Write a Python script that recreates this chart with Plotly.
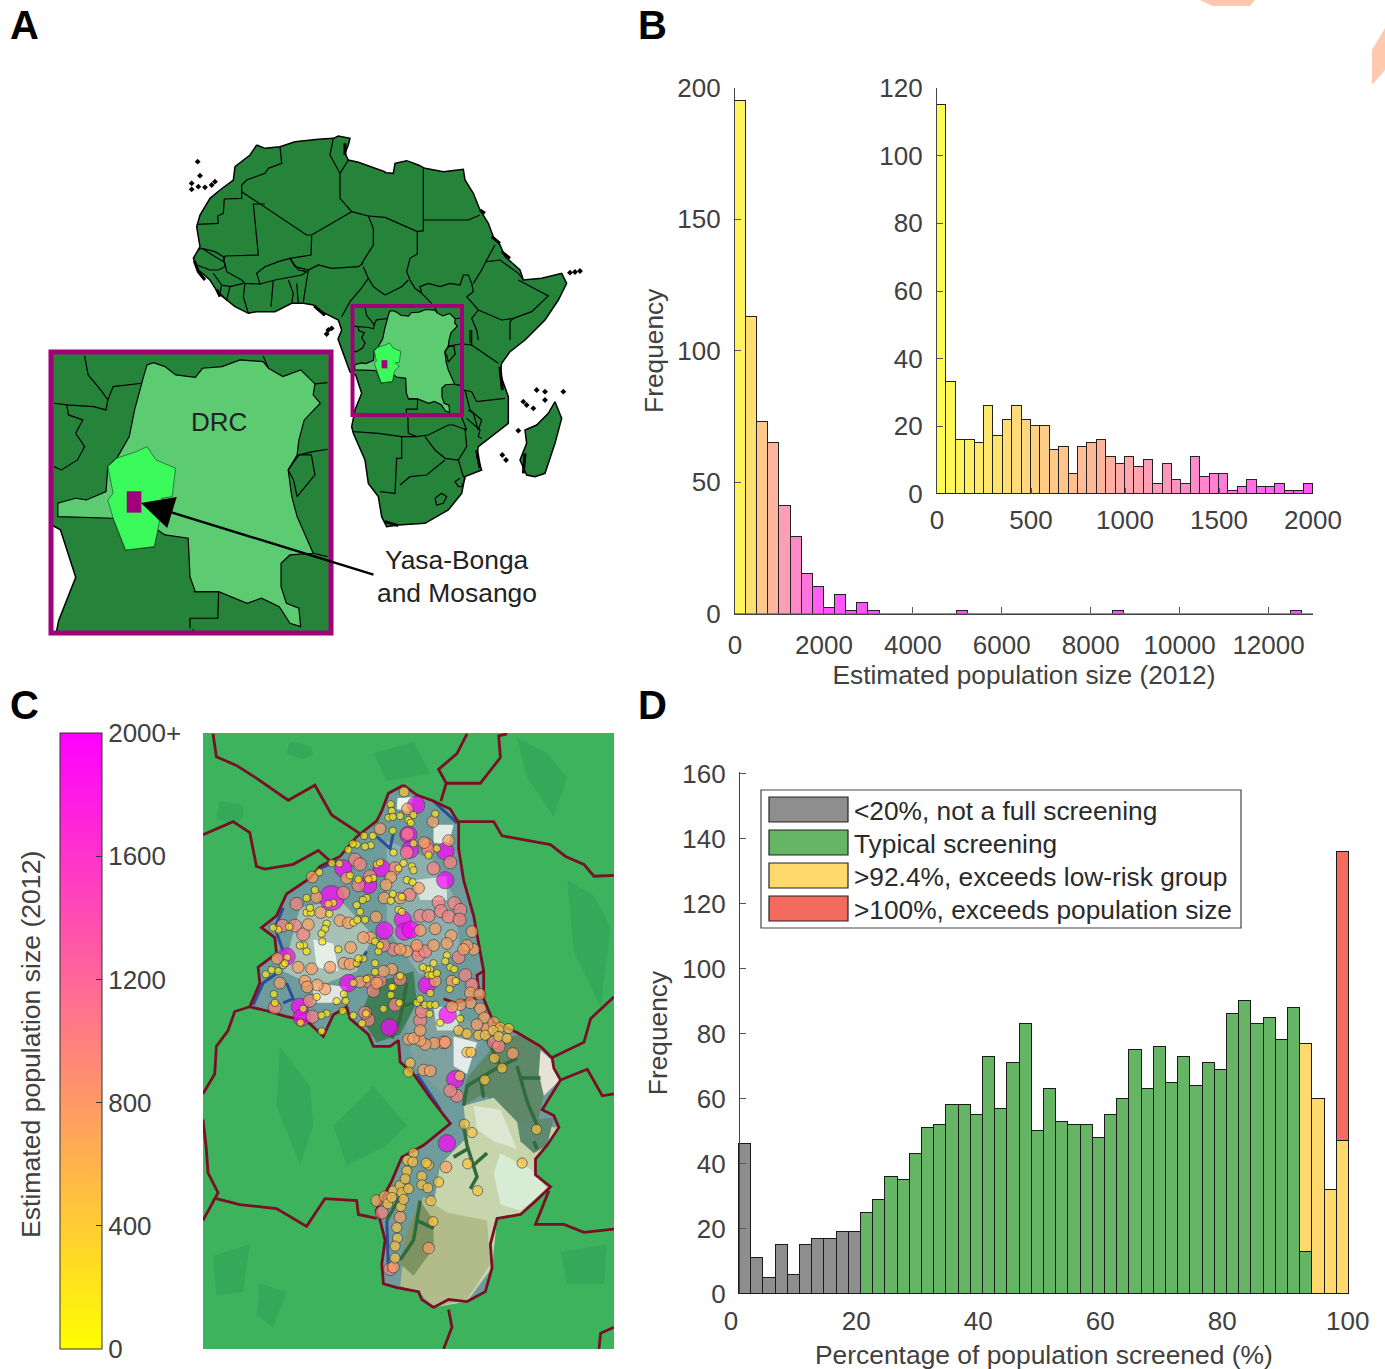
import math
import plotly.graph_objects as go

W, H = 1385, 1369
FONT = "Liberation Sans"
TICK = "#404040"

# ---------- Panel B data ----------
B_MAIN_BIN = 250
B_MAIN_COUNTS = [195, 113, 73, 65, 41, 29, 15, 10, 2, 7, 1, 4, 1, 0, 0, 0, 0, 0, 0, 0, 1, 0, 0, 0, 0, 0,
                 0, 0, 0, 0, 0, 0, 0, 0, 1, 0, 0, 0, 0, 0, 0, 0, 0, 0, 0, 0, 0, 0, 0, 0, 1, 0]
B_INSET_BIN = 50
B_INSET_COUNTS = [115, 33, 16, 16, 15, 26, 17, 22, 26, 22, 20, 20, 13, 14, 6, 14, 15, 16, 11, 9,
                  11, 8, 10, 3, 9, 4, 3, 11, 5, 6, 6, 1, 2, 4, 2, 2, 3, 1, 1, 3]
B_MAIN_XTICKS = [0, 2000, 4000, 6000, 8000, 10000, 12000]
B_MAIN_XLABELS = ["0", "2000", "4000", "6000", "8000", "10000", "12000"]
B_MAIN_YTICKS = [0, 50, 100, 150, 200]
B_INSET_XTICKS = [0, 500, 1000, 1500, 2000]
B_INSET_YTICKS = [0, 20, 40, 60, 80, 100, 120]

# ---------- Panel D data ----------
D_BIN = 2
D_GRAY = [46, 11, 5, 15, 6, 15, 17, 17, 19, 19] + [0] * 40
D_GREEN = [0] * 10 + [25, 29, 36, 35, 43, 51, 52, 58, 58, 55, 73, 57, 71, 83, 50, 63, 53, 52, 52, 48,
                      55, 60, 75, 63, 76, 65, 73, 64, 71, 69, 86, 90, 83, 85, 78, 88, 13, 0, 0, 0]
D_YELLOW = [0] * 46 + [64, 60, 32, 47]
D_RED = [0] * 49 + [89]
D_YTICKS = [0, 20, 40, 60, 80, 100, 120, 140, 160]
D_XLABELS = ["0", "20", "40", "60", "80", "100"]
D_LEGEND = ["<20%, not a full screening", "Typical screening", ">92.4%, exceeds low-risk group",
            ">100%, exceeds population size"]
D_COLORS = ["#8E8E8E", "#66B564", "#FFD96B", "#F26B5E"]

# ---------- Panel C data: villages in map units, by population class ----------
C_HUGE = [(395, 425)]
C_BIG = [(648, 190), (735, 307), (430, 350), (735, 380), (505, 392), (625, 265), (553, 507), (608, 480), (612, 510),
         (632, 505), (445, 640), (300, 700), (306, 727), (260, 573), (568, 752), (765, 883), (740, 1045), (742, 720),
         (680, 645), (545, 350), (630, 303)]
C_SALMON = [(622, 263), (680, 290), (684, 303), (700, 350), (750, 335), (620, 310), (465, 328), (480, 340), (510, 370),
            (585, 350), (475, 393), (430, 412), (290, 440), (248, 495), (285, 495), (310, 517), (628, 417), (715, 436),
            (722, 458), (745, 472), (762, 438), (780, 455), (778, 480), (660, 470), (685, 470), (650, 555), (655, 570),
            (675, 560), (580, 555), (550, 545), (505, 635), (540, 635), (520, 660), (330, 685), (338, 725), (545, 1220),
            (570, 1363), (225, 702), (795, 620), (775, 575), (770, 925), (750, 912), (730, 790), (880, 790), (895, 800),
            (815, 645), (505, 733), (495, 715), (660, 735), (665, 712), (600, 630), (585, 695)]
C_ORANGE = [(622, 200), (698, 232), (745, 280), (672, 285), (540, 250), (440, 375), (337, 372), (350, 423), (362, 462),
            (325, 492), (420, 482), (445, 488), (390, 600), (335, 604), (295, 600), (315, 635), (240, 640), (232, 578),
            (452, 550), (432, 590), (450, 592), (480, 637), (375, 655), (352, 645), (322, 650), (512, 525), (490, 525),
            (552, 425), (528, 473), (572, 372), (558, 392), (600, 425), (655, 400), (660, 507), (705, 503), (753, 520),
            (815, 510), (820, 555), (800, 545), (790, 555), (740, 540), (700, 545), (650, 545), (620, 560), (600, 555),
            (575, 605), (550, 610), (530, 640), (705, 635), (755, 635), (810, 665), (838, 668), (810, 690), (780, 695),
            (755, 700), (840, 705), (852, 728), (860, 755), (830, 745), (880, 740), (937, 818), (702, 792), (735, 790),
            (675, 795), (660, 785), (625, 782), (640, 780), (660, 760), (670, 860), (690, 862), (737, 1105), (685, 1310),
            (530, 1190), (555, 1180), (600, 1232), (580, 1358)]
C_GOLD = [(612, 157), (900, 752), (925, 755), (835, 772), (855, 772), (878, 760), (895, 775), (920, 780), (905, 855),
          (882, 830), (775, 760), (800, 768), (800, 815), (812, 815), (630, 842), (625, 865), (778, 875), (853, 885),
          (792, 997), (815, 1018), (802, 1097), (965, 1095), (1008, 1010), (832, 1165), (685, 1100), (678, 1095),
          (640, 1070), (622, 1088), (638, 1092), (620, 1115), (665, 1128), (665, 1150), (683, 1158), (715, 1143),
          (692, 1190), (698, 1243), (602, 1205), (590, 1258), (592, 1285), (585, 1305), (585, 1335), (580, 1165),
          (600, 1152), (605, 1170), (625, 1160), (610, 1187), (563, 1198), (615, 1135), (575, 1182)]
C_TINY = [(572, 188), (575, 205), (565, 222), (578, 220), (600, 218), (640, 215), (625, 228), (632, 235), (705, 212),
          (578, 255), (518, 268), (492, 268), (470, 290), (458, 288), (445, 303), (512, 292), (495, 295), (580, 310),
          (640, 287), (710, 300), (685, 317), (395, 337), (418, 338), (358, 360), (345, 405), (320, 425), (320, 462),
          (333, 462), (330, 450), (400, 437), (388, 465), (385, 440), (380, 490), (375, 503), (365, 515), (367, 535),
          (235, 505), (220, 500), (268, 498), (262, 575), (250, 595), (235, 610), (215, 607), (198, 618), (255, 590),
          (312, 545), (300, 545), (320, 560), (415, 555), (470, 590), (490, 578), (475, 578), (525, 590), (525, 612),
          (500, 630), (460, 640), (432, 668), (437, 685), (410, 686), (350, 675), (380, 717), (365, 722), (310, 705),
          (225, 690), (222, 668), (365, 762), (302, 740), (428, 710), (460, 722), (498, 717), (486, 742), (550, 705),
          (572, 670), (580, 650), (598, 690), (600, 622), (535, 560), (525, 535), (540, 545), (578, 415), (572, 432),
          (605, 422), (595, 455), (605, 460), (500, 425), (488, 430), (470, 443), (460, 487), (472, 480), (495, 480),
          (480, 460), (530, 340), (540, 335), (520, 375), (505, 378), (595, 350), (610, 337), (635, 345), (640, 355),
          (620, 380), (637, 385), (450, 368), (475, 378), (690, 605), (700, 590), (680, 605), (668, 600), (685, 620),
          (695, 620), (710, 615), (740, 570), (735, 585), (750, 600), (762, 605), (767, 635), (748, 655), (690, 665),
          (675, 695), (690, 695), (705, 695), (650, 690), (660, 680), (688, 718), (720, 740), (780, 730), (575, 650)]
C_POP = {"huge": 5000, "big": 2100, "salmon": 1000, "orange": 750, "gold": 480, "tiny": 170}
C_CBAR_TICKS = [0, 400, 800, 1200, 1600, 2000]
C_CBAR_LABELS = ["0", "400", "800", "1200", "1600", "2000+"]

C_REGION = [(610, 140), (650, 165), (700, 180), (750, 200), (775, 235), (775, 300), (790, 380), (820, 470), (835, 540),
            (850, 610), (850, 680), (880, 740), (950, 765), (1020, 800), (1055, 830), (1060, 855), (1080, 885),
            (1025, 960), (1060, 975), (1075, 1005), (1040, 1050), (1005, 1085), (1005, 1125), (1050, 1155), (1000, 1195),
            (960, 1225), (890, 1235), (870, 1300), (875, 1360), (855, 1420), (800, 1445), (745, 1440), (700, 1460),
            (665, 1440), (655, 1420), (590, 1410), (550, 1400), (545, 1350), (555, 1290), (540, 1240), (528, 1215),
            (575, 1140), (605, 1080), (670, 1050), (750, 995), (690, 930), (640, 870), (600, 840), (595, 785), (570, 800),
            (520, 800), (505, 770), (450, 730), (440, 700), (400, 720), (370, 775), (345, 755), (320, 735), (260, 725),
            (200, 710), (150, 700), (180, 640), (175, 600), (230, 565), (225, 525), (185, 500), (230, 470), (260, 415),
            (330, 375), (360, 345), (420, 320), (470, 270), (530, 230), (545, 205), (565, 160), (610, 140)]
# land-cover patches inside the study area: (colour, outline)
C_COVER = [
    ("#A9C0B4", [(300, 450), (420, 430), (520, 520), (470, 610), (350, 650), (250, 610)]),
    ("#8DB0AE", [(560, 280), (700, 330), (760, 420), (780, 560), (660, 620), (560, 500)]),
    ("#7FA19E", [(610, 700), (760, 720), (860, 760), (800, 860), (730, 920), (640, 850)]),
    ("#3F7F58", [(520, 640), (640, 610), (650, 690), (600, 770), (530, 790), (480, 725)]),
    ("#5E8868", [(790, 950), (800, 880), (880, 800), (950, 770), (1020, 800), (1040, 880), (1020, 960), (1010, 1000), (930, 1000), (900, 960), (850, 920)]),
    ("#C6D5AC", [(790, 950), (880, 930), (960, 1000), (1075, 1005), (1005, 1085), (1005, 1125), (1050, 1155), (960, 1225), (890, 1235),
                 (875, 1360), (800, 1445), (700, 1460), (690, 1300), (700, 1200), (720, 1100), (800, 1030)]),
    ("#B2BC8A", [(670, 1180), (740, 1220), (860, 1240), (870, 1350), (800, 1440), (700, 1460), (655, 1420), (600, 1405), (610, 1330)]),
    ("#7E9362", [(660, 1190), (700, 1240), (700, 1310), (640, 1380), (600, 1350), (620, 1270)]),
    ("#DDE6D0", [(820, 950), (900, 960), (950, 1060), (880, 1040), (830, 1010)]),
    ("#D8EBD4", [(900, 1070), (990, 1110), (1040, 1160), (960, 1215), (900, 1200), (880, 1120)]),
    ("#E6E2D6", [(1020, 810), (1055, 835), (1078, 885), (1030, 925), (1015, 870)]),
    ("#5D8A70", [(950, 990), (1060, 980), (1040, 1050), (1000, 1070), (960, 1040)]),
    ("#EEF3EC", [(592, 172), (640, 170), (625, 205), (590, 200)]),
    ("#E3EBE4", [(700, 240), (760, 240), (745, 290), (700, 285)]),
    ("#E6EEE8", [(340, 530), (400, 540), (415, 610), (350, 600)]),
    ("#E4ECEA", [(760, 775), (830, 790), (800, 870), (760, 850)]),
    ("#D6E2DC", [(640, 380), (740, 370), (740, 430), (660, 430)]),
    ("#E2E5E0", [(340, 640), (440, 650), (420, 690), (340, 690)]),
    ("#CFE0D8", [(700, 700), (780, 700), (770, 760), (710, 760)]),
]
C_FOREST = [[(790, 1000), (800, 1050), (830, 1130), (810, 1160)], [(800, 1060), (760, 1080)], [(820, 1100), (860, 1070)],
            [(860, 780), (900, 850), (800, 900), (790, 950)], [(900, 850), (950, 830)], [(840, 880), (850, 930)],
            [(950, 850), (980, 940), (1010, 1000)], [(660, 1190), (640, 1290), (600, 1340)], [(650, 1240), (700, 1260)],
            [(620, 640), (600, 730), (575, 780)], [(600, 700), (640, 690)], [(1000, 1040), (1010, 1060)],
            [(560, 1240), (600, 1180)], [(960, 880), (1020, 880)]]
C_BLUE_EDGE = [[(160, 695), (190, 640), (240, 610)], [(250, 450), (225, 500), (250, 560)], [(530, 270), (570, 300), (580, 260)],
               [(700, 180), (770, 235)], [(650, 870), (720, 960)], [(560, 1240), (565, 1370)], [(260, 640), (280, 680), (250, 690)],
               [(470, 600), (500, 560)], [(360, 350), (420, 330)]]
C_GREEN_BLOBS = [[(270, 30), (330, 40), (340, 60), (310, 75), (260, 60)], [(60, 180), (130, 190), (130, 220), (110, 240), (50, 225)],
                 [(950, 20), (1040, 60), (1100, 120), (1060, 220), (980, 120)], [(1080, 1320), (1220, 1300), (1210, 1400), (1100, 1400)],
                 [(180, 1400), (260, 1420), (220, 1510), (170, 1480)], [(240, 800), (330, 900), (340, 1000), (300, 1100), (230, 950)],
                 [(1100, 380), (1180, 420), (1230, 500), (1200, 700), (1120, 560)], [(520, 60), (640, 30), (690, 110), (560, 130)],
                 [(400, 1000), (520, 900), (620, 1000), (560, 1050), (440, 1100)], [(40, 1330), (150, 1300), (130, 1420), (50, 1430)]]
C_BORDERS = [[(40, 10), (50, 68), (110, 90), (175, 125), (265, 178), (345, 140), (395, 215), (490, 268)],
             [(10, 265), (100, 232), (150, 260), (170, 345), (195, 352), (280, 340), (355, 305), (395, 335)],
             [(800, 10), (770, 60), (715, 100), (738, 135), (722, 180)],
             [(920, 10), (895, 15), (900, 70), (840, 135), (738, 135)],
             [(775, 232), (880, 232), (905, 268), (1050, 290), (1095, 320), (1150, 340), (1180, 370), (1240, 368)],
             [(150, 700), (105, 712), (85, 760), (50, 800), (45, 870), (10, 920)],
             [(10, 985), (20, 1060), (25, 1120), (55, 1170), (10, 1240)],
             [(50, 1185), (120, 1200), (230, 1210), (320, 1255), (375, 1185), (470, 1190), (475, 1225), (530, 1235)],
             [(1055, 828), (1150, 790), (1170, 730), (1240, 675)],
             [(1080, 885), (1160, 858), (1205, 925), (1240, 920)],
             [(1045, 1165), (1005, 1250), (1090, 1250), (1150, 1270), (1240, 1262)],
             [(745, 1465), (755, 1510), (730, 1565)], [(1240, 1510), (1200, 1525), (1195, 1565)],
             [(730, 680), (765, 690), (845, 675)], [(850, 610), (830, 620), (835, 660)]]

# ---------- Panel A data: traced outlines, in three tracing frames ----------
AFRICA_N_W = [(215, 45), (240, 55), (285, 50), (330, 35), (400, 28), (445, 25), (460, 18), (495, 25), (490, 45), (480, 70), (490, 90),
              (520, 97), (600, 125)]
AFRICA_N_E = [(0, 128), (25, 130), (30, 100), (65, 92), (100, 105), (120, 115), (175, 125), (235, 118), (240, 150), (265, 190), (285, 240),
              (310, 280), (325, 320), (345, 345), (360, 380), (405, 420), (415, 450), (470, 445), (530, 430), (545, 460), (520, 510),
              (480, 570), (420, 630)]
AFRICA_S = [(495, 65), (470, 100), (465, 130), (490, 200), (490, 280), (440, 320), (400, 350), (395, 380), (410, 420), (360, 440), (350, 490),
            (310, 540), (240, 580), (160, 585), (125, 590), (110, 560), (100, 500), (70, 460), (60, 390), (25, 310), (20, 290), (30, 240),
            (50, 190), (32, 135), (15, 126), (-21, 27)]
AFRICA_W = [(470, 600), (460, 570), (430, 555), (400, 540), (385, 525), (355, 520), (320, 520), (270, 545), (215, 545), (190, 550), (150, 530),
            (100, 490), (75, 450), (40, 420), (25, 385), (45, 350), (35, 290), (45, 255), (75, 205), (105, 180), (145, 150), (150, 110), (195, 75)]
MADAGASCAR = [(630, 215), (650, 265), (630, 340), (600, 430), (570, 440), (545, 435), (525, 390), (545, 340), (540, 300), (575, 285), (610, 250)]
ISLANDS_W = [(38, 95), (45, 137), (20, 160), (20, 178), (40, 170), (60, 172), (80, 165), (90, 155), (430, 600), (440, 595), (425, 612)]
ISLANDS_E = [(555, 428), (570, 426), (585, 423)]
ISLANDS_S = [(575, 180), (600, 185), (600, 210), (655, 185), (535, 215), (545, 225), (565, 235), (520, 302), (472, 375), (483, 390)]
BORDERS_W = [
    [(285, 50), (290, 100), (250, 115), (240, 130), (185, 150), (170, 165), (170, 185)],
    [(170, 185), (170, 205), (118, 207), (115, 250), (98, 258), (100, 280), (35, 283)],
    [(170, 185), (365, 315), (380, 315), (500, 245)],
    [(240, 222), (205, 222), (220, 375), (120, 378), (115, 395), (50, 355), (40, 360)],
    [(50, 355), (90, 365), (115, 380), (120, 410), (100, 420), (75, 420), (35, 405)],
    [(380, 318), (378, 375), (315, 385), (280, 395), (240, 410), (215, 430), (225, 462), (180, 460), (170, 450), (125, 425), (120, 400)],
    [(315, 385), (340, 420), (365, 425), (350, 435), (270, 450), (225, 462)],
    [(315, 385), (330, 410), (370, 420), (400, 405), (440, 415), (520, 410), (535, 400)],
    [(500, 245), (550, 258), (565, 295), (565, 345), (530, 400)],
    [(370, 420), (365, 450), (355, 515)],
    [(535, 410), (550, 445), (525, 480), (495, 515), (470, 560)],
    [(265, 450), (258, 530)], [(310, 450), (325, 490), (320, 520)], [(335, 460), (340, 520)],
    [(180, 460), (175, 500), (190, 550)], [(175, 460), (135, 470), (110, 465), (85, 430)],
    [(110, 465), (105, 490), (125, 510), (135, 470)],
    [(445, 25), (435, 75), (465, 130), (465, 205), (500, 245)], [(490, 90), (465, 130)],
    [(550, 258), (600, 262)], [(550, 445), (565, 470), (600, 495)],
]
BORDERS_E = [
    [(0, 262), (97, 305), (115, 302), (115, 115)], [(115, 270), (250, 270), (285, 255)],
    [(97, 305), (97, 372), (75, 385), (65, 425), (75, 450), (90, 475)],
    [(0, 495), (50, 470), (70, 450)],
    [(90, 475), (110, 490), (105, 470), (130, 460), (165, 470), (195, 460), (225, 465), (235, 435), (250, 435), (260, 460), (265, 485), (245, 500)],
    [(265, 460), (290, 420), (305, 390), (330, 345)],
    [(305, 395), (345, 390), (400, 430), (415, 450)],
    [(400, 450), (490, 498), (440, 545), (385, 565), (350, 570), (300, 550), (280, 540), (245, 500)],
    [(385, 565), (375, 575), (375, 630)], [(280, 540), (260, 565), (275, 600), (280, 630)], [(110, 490), (140, 520)],
]
BORDERS_S = [
    [(380, 0), (380, 45), (355, 42)], [(380, 45), (460, 100)], [(375, 0), (375, 40)],
    [(355, 180), (380, 185), (395, 215), (480, 205)],
    [(360, 180), (375, 240), (410, 270), (400, 300), (385, 250), (370, 240)],
    [(350, 262), (365, 300), (325, 285), (310, 285), (250, 315), (215, 320), (190, 310), (188, 250)],
    [(25, 305), (100, 310), (170, 320), (215, 320)],
    [(170, 320), (170, 385), (155, 385), (150, 490), (105, 485)],
    [(165, 465), (195, 440), (245, 435), (300, 390)],
    [(240, 320), (270, 360), (300, 385), (340, 390), (365, 350), (360, 295)],
    [(340, 390), (355, 440), (360, 445), (350, 470), (340, 470), (330, 455), (345, 445)],
    [(270, 505), (290, 490), (305, 500), (295, 520), (275, 525), (270, 505)],
    [(365, 265), (405, 300), (400, 320), (410, 325)],
]
COAST_HEAVY_W = [[(28, 392), (40, 425), (60, 450)], [(95, 478), (105, 500)], [(388, 528), (420, 556)], [(480, 40), (480, 75)]]
COAST_HEAVY_E = [[(320, 320), (345, 340)], [(350, 365), (375, 385)], [(285, 240), (300, 250)]]
COAST_HEAVY_S = [[(465, 110), (472, 180)], [(395, 360), (405, 415)], [(120, 575), (160, 587)], [(540, 370), (535, 430)]]
# Central Africa, traced on the enlarged view
INSET_BORDERS = [
    [(125, 678), (135, 735), (170, 780), (190, 810), (205, 770), (285, 760)],
    [(190, 810), (185, 840), (150, 830), (75, 825), (40, 820)],
    [(75, 825), (80, 855), (120, 870), (100, 910), (125, 950), (105, 990), (60, 1020), (40, 1010)],
    [(625, 678), (640, 715)], [(770, 762), (805, 758)],
    [(725, 975), (765, 965), (805, 958)],
    [(695, 1020), (710, 1050), (720, 1100), (770, 1035), (760, 975), (725, 975), (695, 1020)],
    [(430, 1385), (500, 1385), (500, 1400), (498, 1465), (420, 1465), (420, 1495)],
    [(765, 1270), (805, 1280)],
]
DRC = [(290, 740), (300, 705), (318, 698), (350, 710), (380, 735), (435, 742), (455, 715), (510, 710), (560, 690), (625, 695), (640, 715),
       (680, 740), (730, 720), (770, 762), (765, 795), (785, 820), (740, 870), (725, 930), (720, 975), (695, 1020), (705, 1100),
       (720, 1160), (765, 1270), (700, 1275), (675, 1300), (675, 1370), (690, 1420), (725, 1435), (730, 1490), (700, 1480),
       (670, 1430), (620, 1405), (580, 1420), (500, 1385), (435, 1385), (420, 1340), (415, 1225), (350, 1215), (330, 1200),
       (320, 1250), (240, 1260), (205, 1165), (50, 1160), (50, 1120), (100, 1105), (130, 1110), (185, 1085), (190, 1010),
       (215, 985), (250, 920), (265, 840)]
BANDUNDU = [(190, 1010), (215, 985), (270, 965), (300, 950), (325, 990), (380, 1015), (370, 1100), (340, 1105), (370, 1130),
            (335, 1170), (330, 1200), (320, 1250), (240, 1260), (205, 1165), (190, 1110), (205, 1090)]
STUDY_AREA = [(243, 1084), (284, 1084), (284, 1148), (243, 1148)]


def to_ll(pts, x0, y0, sx=3.0, sy=3.0):
    return [((x0 + x / sx - 288) / 5.4, (339 - y0 - y / sy) / 5.4) for x, y in pts]


def west_ll(pts):
    return to_ll(pts, 185, 130)


def east_ll(pts):
    return to_ll(pts, 385, 130)


def south_ll(pts):
    return to_ll(pts, 345, 330)


def inset_ll(pts):
    return [(11.05 + x / 38.64, 21.89 - y / 42) for x, y in pts]


def px(x):
    return x / W


def py(y):
    return 1 - y / H


def dom_x(a, b):
    return [px(a), px(b)]


def dom_y(top, bottom):
    return [py(bottom), py(top)]


def pop_rgb(v, alpha=1.0):
    t = min(v / 2000, 1)
    r, g, b = 255, 255 * (1 - t), 255 * t
    return "rgb(%d,%d,%d)" % (r * alpha + 255 * (1 - alpha), g * alpha + 255 * (1 - alpha), b * alpha + 255 * (1 - alpha))


fig = go.Figure()


def poly(pts, xa, ya, fill=None, line=None, width=1, close=True):
    pts = list(pts)
    if close:
        pts = pts + [pts[0]]
    fig.add_trace(go.Scatter(
        x=[p[0] for p in pts], y=[p[1] for p in pts], mode="lines", xaxis=xa, yaxis=ya,
        line=dict(color=line or "rgba(0,0,0,0)", width=width if line else 0),
        fill="toself" if fill else "none", fillcolor=fill, hoverinfo="skip", showlegend=False))


# ----- Panel A (both map views) -----
africa = west_ll(AFRICA_N_W) + east_ll(AFRICA_N_E) + south_ll(AFRICA_S) + west_ll(AFRICA_W)
islands = west_ll(ISLANDS_W) + east_ll(ISLANDS_E) + south_ll(ISLANDS_S)
for xa, ya in (("x5", "y5"), ("x6", "y6")):
    poly(africa, xa, ya, "#26843A", "#000000", 1.5)
    poly(south_ll(MADAGASCAR), xa, ya, "#26843A", "#000000", 1.5)
    fig.add_trace(go.Scatter(x=[p[0] for p in islands], y=[p[1] for p in islands], mode="markers",
                             xaxis=xa, yaxis=ya, marker=dict(color="black", size=4.5, symbol="diamond"),
                             hoverinfo="skip", showlegend=False))
    poly(inset_ll(DRC), xa, ya, "#5CCB72", "#000000", 1.2)
    poly(inset_ll(BANDUNDU), xa, ya, "#3BFA5B", "#1a6a30", 0.8)
    poly(inset_ll(STUDY_AREA), xa, ya, "#A0007A")
    for conv, group in ((west_ll, BORDERS_W), (east_ll, BORDERS_E), (south_ll, BORDERS_S), (inset_ll, INSET_BORDERS)):
        for b in group:
            poly(conv(b), xa, ya, None, "#000000", 1.2, close=False)
    for conv, group in ((west_ll, COAST_HEAVY_W), (east_ll, COAST_HEAVY_E), (south_ll, COAST_HEAVY_S)):
        for b in group:
            poly(conv(b), xa, ya, None, "#000000", 3, close=False)

# ----- Panel B -----
fig.add_trace(go.Bar(
    x=[(i + 0.5) * B_MAIN_BIN for i in range(len(B_MAIN_COUNTS))], y=B_MAIN_COUNTS, width=B_MAIN_BIN,
    marker=dict(color=[pop_rgb((i + 0.5) * B_MAIN_BIN, 0.67) for i in range(len(B_MAIN_COUNTS))],
                line=dict(color="#222222", width=1.0)), xaxis="x", yaxis="y", showlegend=False))
fig.add_trace(go.Bar(
    x=[(i + 0.5) * B_INSET_BIN for i in range(len(B_INSET_COUNTS))], y=B_INSET_COUNTS, width=B_INSET_BIN,
    marker=dict(color=[pop_rgb((i + 0.5) * B_INSET_BIN, 0.67) for i in range(len(B_INSET_COUNTS))],
                line=dict(color="#222222", width=1.2)), xaxis="x2", yaxis="y2", showlegend=False))

# ----- Panel D -----
d_centers = [(i + 0.5) * D_BIN for i in range(50)]
for vals, col, name in zip((D_GRAY, D_GREEN, D_YELLOW, D_RED), D_COLORS, D_LEGEND):
    fig.add_trace(go.Bar(x=d_centers, y=vals, width=D_BIN, name=name, xaxis="x3", yaxis="y3", showlegend=False,
                         marker=dict(color=col, line=dict(color="#1a1a1a", width=1.4))))

# ----- Panel C -----
poly(C_REGION, "x4", "y4", "#6E9C9C")
for p in C_GREEN_BLOBS:
    poly(p, "x4", "y4", "rgba(35,140,80,0.28)")
for col, p in C_COVER:
    poly(p, "x4", "y4", col)
for p in C_BLUE_EDGE:
    poly(p, "x4", "y4", None, "#2C4E9A", 3, close=False)
for p in C_FOREST:
    poly(p, "x4", "y4", None, "#2F6B3C", 3.5, close=False)
poly(C_REGION, "x4", "y4", None, "#7A1024", 2.8)
for b in C_BORDERS:
    poly(b, "x4", "y4", None, "#7A1024", 2.8, close=False)

groups = [(C_HUGE, "huge"), (C_BIG, "big"), (C_SALMON, "salmon"), (C_ORANGE, "orange"), (C_GOLD, "gold"), (C_TINY, "tiny")]
vx, vy, vp = [], [], []
for pts, key in groups:
    for x, y in pts:
        vx.append(x)
        vy.append(y)
        vp.append(C_POP[key])
fig.add_trace(go.Scatter(
    x=vx, y=vy, mode="markers", xaxis="x4", yaxis="y4", showlegend=False, hovertemplate="%{marker.color}<extra></extra>",
    marker=dict(
        color=vp, cmin=0, cmax=2000, size=[3.6 + 0.3 * math.sqrt(v) for v in vp],
        colorscale=[[0, "rgb(255,255,0)"], [1, "rgb(255,0,255)"]],
        line=dict(color="#444444", width=1),
        showscale=True,
        colorbar=dict(x=px(60), xanchor="left", xpad=0, y=py(733), yanchor="top", ypad=0,
                      thicknessmode="pixels", thickness=42, lenmode="pixels", len=616,
                      tickmode="array", tickvals=C_CBAR_TICKS, ticktext=C_CBAR_LABELS, ticks="inside", ticklen=6,
                      tickcolor="#333333", outlinecolor="#333333", outlinewidth=1,
                      tickfont=dict(family=FONT, size=26, color=TICK)))))

# ----- Layout -----
def axis(dom, rng, **kw):
    d = dict(domain=dom, range=rng, showgrid=False, zeroline=False, fixedrange=True)
    d.update(kw)
    return d


def val_axis(dom, rng, ticks, anchor, title=None, standoff=None, **kw):
    d = axis(dom, rng, anchor=anchor, tickmode="array", tickvals=ticks, ticks="inside", ticklen=6, tickcolor="#555555",
             showline=True, linecolor="#444444", linewidth=1.2, tickfont=dict(family=FONT, size=26, color=TICK),
             ticklabelstandoff=8)
    if title:
        d["title"] = dict(text=title, font=dict(family=FONT, size=26.3, color=TICK), standoff=standoff)
    d.update(kw)
    return d


def hidden(dom, rng, anchor):
    return axis(dom, rng, anchor=anchor, visible=False)


D_LEFT, D_AXIS = 731, 739
d_per_px = 2 / 12.2
MX0, MX1, MY0, MY1 = 140, 600, 120, 540
layout = dict(
    width=W, height=H, autosize=False, margin=dict(l=0, r=0, t=0, b=0, pad=0, autoexpand=False), paper_bgcolor="white", plot_bgcolor="rgba(0,0,0,0)",
    barmode="stack", bargap=0, showlegend=False, font=dict(family=FONT, color=TICK),
    xaxis=val_axis(dom_x(735, 1313), [0, 13000], B_MAIN_XTICKS, "y", "Estimated population size (2012)", 6, ticktext=B_MAIN_XLABELS),
    yaxis=val_axis(dom_y(88, 613.5), [0, 200], B_MAIN_YTICKS, "x", "Frequency", 6),
    xaxis2=val_axis(dom_x(937, 1313), [0, 2000], B_INSET_XTICKS, "y2", showline=False),
    yaxis2=val_axis(dom_y(88, 494), [0, 120], B_INSET_YTICKS, "x2"),
    xaxis3=axis(dom_x(D_LEFT, 1349), [-(D_AXIS - D_LEFT) * d_per_px, 100], anchor="y3", tickmode="array",
                tickvals=[-1.3, 19.2, 39.2, 59.2, 79.2, 99.8], ticktext=D_XLABELS, ticks="", showline=False,
                tickfont=dict(family=FONT, size=26, color=TICK), ticklabelstandoff=9),
    yaxis3=val_axis(dom_y(772, 1294), [0, 160.6], D_YTICKS, "free", "Frequency", 6, position=px(D_AXIS)),
    xaxis4=hidden(dom_x(203, 614), [10, 1240], "y4"),
    yaxis4=hidden(dom_y(733, 1349), [1565, 8], "x4"),
    xaxis5=hidden(dom_x(MX0, MX1), [(MX0 - 288) / 5.4, (MX1 - 288) / 5.4], "y5"),
    yaxis5=hidden(dom_y(MY0, MY1), [(339 - MY1) / 5.4, (339 - MY0) / 5.4], "x5"),
    xaxis6=hidden(dom_x(51, 332), [11.85, 11.85 + 281 / 13.8], "y6"),
    yaxis6=hidden(dom_y(351, 634), [6.1 - 283 / 14, 6.1], "x6"),
)

ann = []


def text(x, y, s, size=26, color="#1a1a1a", bold=False, angle=0, xanchor="center"):
    ann.append(dict(x=px(x), y=py(y), xref="paper", yref="paper", text="<b>%s</b>" % s if bold else s, showarrow=False,
                    font=dict(family=FONT, size=size, color=color), textangle=angle, xanchor=xanchor, yanchor="middle"))


for s, x, y in (("A", 24, 25), ("B", 652, 25), ("C", 24, 705), ("D", 652, 705)):
    text(x, y, s, size=40, color="black", bold=True)
text(219, 422, "DRC", color="#222222")
text(457, 560, "Yasa-Bonga", size=26.4, color="#222222")
text(457, 593, "and Mosango", size=26.4, color="#222222")
text(31, 1045, "Estimated population size (2012)", size=26.6, color=TICK, angle=-90)
text(1044, 1355, "Percentage of population screened (%)", size=26.4, color=TICK)
for s, y in zip(D_LEGEND, (811, 844, 877, 910)):
    text(852, y, s, size=26.3, xanchor="left", color="#2a2a2a")
ann.append(dict(x=px(141), y=py(503), xref="paper", yref="paper", ax=375 - 141, ay=575 - 503, axref="pixel", ayref="pixel",
                text="", showarrow=True, arrowhead=2, arrowsize=2.7, arrowwidth=2.4, arrowcolor="black"))
layout["annotations"] = ann

shapes = [
    dict(type="rect", xref="paper", yref="paper", x0=px(203), x1=px(614), y0=py(733), y1=py(1349), fillcolor="#3DB35E",
         line=dict(width=0), layer="below"),
    dict(type="rect", xref="paper", yref="paper", x0=px(51), x1=px(331), y0=py(352), y1=py(633), line=dict(color="#A0007A", width=5),
         fillcolor="rgba(0,0,0,0)", layer="above"),
    dict(type="rect", xref="paper", yref="paper", x0=px(352.5), x1=px(462), y0=py(306), y1=py(415), line=dict(color="#A0007A", width=4),
         fillcolor="rgba(0,0,0,0)", layer="above"),
    dict(type="rect", xref="paper", yref="paper", x0=px(761), x1=px(1241), y0=py(790), y1=py(928), fillcolor="white",
         line=dict(color="#444444", width=1.2), layer="above"),
    dict(type="path", xref="paper", yref="paper", layer="above", fillcolor="#FFC9B0", line=dict(width=0),
         path="M%f,%f L%f,%f L%f,%f L%f,%f Z" % (px(1200), py(0), px(1255), py(0), px(1250), py(6), px(1212), py(6))),
    dict(type="path", xref="paper", yref="paper", layer="above", fillcolor="#FFC9B0", line=dict(width=0),
         path="M%f,%f L%f,%f L%f,%f L%f,%f Z" % (px(1385), py(28), px(1372), py(50), px(1372), py(85), px(1385), py(70))),
]
for col, y in zip(D_COLORS, (797, 830, 863, 896)):
    shapes.append(dict(type="rect", xref="paper", yref="paper", x0=px(769), x1=px(848), y0=py(y), y1=py(y + 25), fillcolor=col,
                       line=dict(color="#222222", width=1.2), layer="above"))
layout["shapes"] = shapes

fig.update_layout(**layout)
fig.write_html("out.html", post_script="document.body.style.margin='0';", config={"displayModeBar": False})
